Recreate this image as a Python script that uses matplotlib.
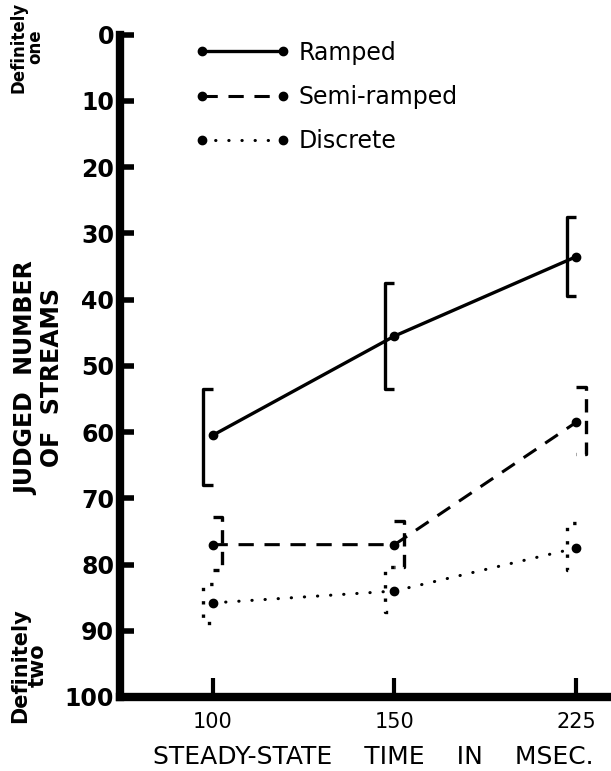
import numpy as np
import matplotlib.pyplot as plt

# =========================
# DATA
# =========================
times = ["100", "150", "225"]
ramped = [60.5, 45.5, 33.5]
ramped_lo = [53.5, 37.5, 27.5]
ramped_hi = [68.0, 53.5, 39.5]
semi = [77.0, 77.0, 58.5]
semi_lo = [72.8, 73.5, 53.2]
semi_hi = [80.8, 80.3, 63.3]
discrete = [85.8, 84.0, 77.5]
discrete_lo = [83.0, 80.4, 73.7]
discrete_hi = [88.8, 87.2, 80.8]
y_ticks = [0, 10, 20, 30, 40, 50, 60, 70, 80, 90, 100]

plt.rcParams["font.family"] = "DejaVu Sans"

fig = plt.figure(figsize=(6.11, 7.71), dpi=100)
ax = fig.add_axes([0.196, 0.096, 0.804, 0.859])
x = np.arange(len(times))


def bracket(ax, xs, lo, hi, side, ls, lw):
    # side=-1: bar left of the point, serifs to the right
    off = 0.05 * side
    serif = 0.05
    for xi, a, b in zip(xs, lo, hi):
        xv = xi + off
        xs_ = xv - side * serif
        ax.plot([xs_, xv, xv, xs_], [a, a, b, b], color="black",
                linestyle=ls, linewidth=lw, solid_capstyle="butt",
                dash_capstyle="butt")


dot_style = (0, (0.1, 4.2))
ax.plot(x, ramped, color="black", lw=2.4, marker="o", ms=6, label="Ramped")
ax.plot(x, semi, color="black", lw=2.2, ls=(0, (5, 3.5)), marker="o", ms=6,
        label="Semi-ramped")
ax.plot(x, discrete, color="black", lw=2.2, ls=dot_style, marker="o",
        ms=6, dash_capstyle="round", label="Discrete")

bracket(ax, x, ramped_lo, ramped_hi, -1, "-", 2.4)
bracket(ax, x, semi_lo, semi_hi, 1, (0, (4, 2.5)), 2.4)
bracket(ax, x, discrete_lo, discrete_hi, -1, (0, (1, 3)), 2.4)

ax.set_ylim(100, 0)
ax.set_xlim(-0.51, 2.19)
ax.set_yticks(y_ticks)
ax.set_yticklabels([str(v) for v in y_ticks], fontsize=17, fontweight="bold")
ax.set_xticks(x)
ax.set_xticklabels(times, fontsize=15)
ax.tick_params(axis="y", direction="in", length=10, width=4, pad=4)
ax.tick_params(axis="x", direction="in", length=14, width=3, pad=11)
for s in ["top", "right"]:
    ax.spines[s].set_visible(False)
ax.spines["left"].set_linewidth(6)
ax.spines["bottom"].set_linewidth(6)
ax.spines["left"].set_capstyle("projecting")

fig.text(0.611, 0.018, "STEADY-STATE    TIME    IN    MSEC.", ha="center",
         va="center", fontsize=18)

fig.text(0.064, 0.51, "JUDGED  NUMBER\nOF  STREAMS", rotation=90, ha="center",
         va="center", fontsize=17, fontweight="bold", linespacing=1.1)
fig.text(0.044, 0.939, "Definitely\none", rotation=90, ha="center", va="center",
         fontsize=12, fontweight="bold", linespacing=0.85)
fig.text(0.047, 0.137, "Definitely\ntwo", rotation=90, ha="center", va="center",
         fontsize=15, fontweight="bold", linespacing=0.85)

leg = ax.legend(loc="upper left", bbox_to_anchor=(0.110, 1.023), frameon=False,
                fontsize=17, handlelength=4.03, handletextpad=0.34,
                labelspacing=0.86, numpoints=2)

fig.savefig("out.png", dpi=100)
